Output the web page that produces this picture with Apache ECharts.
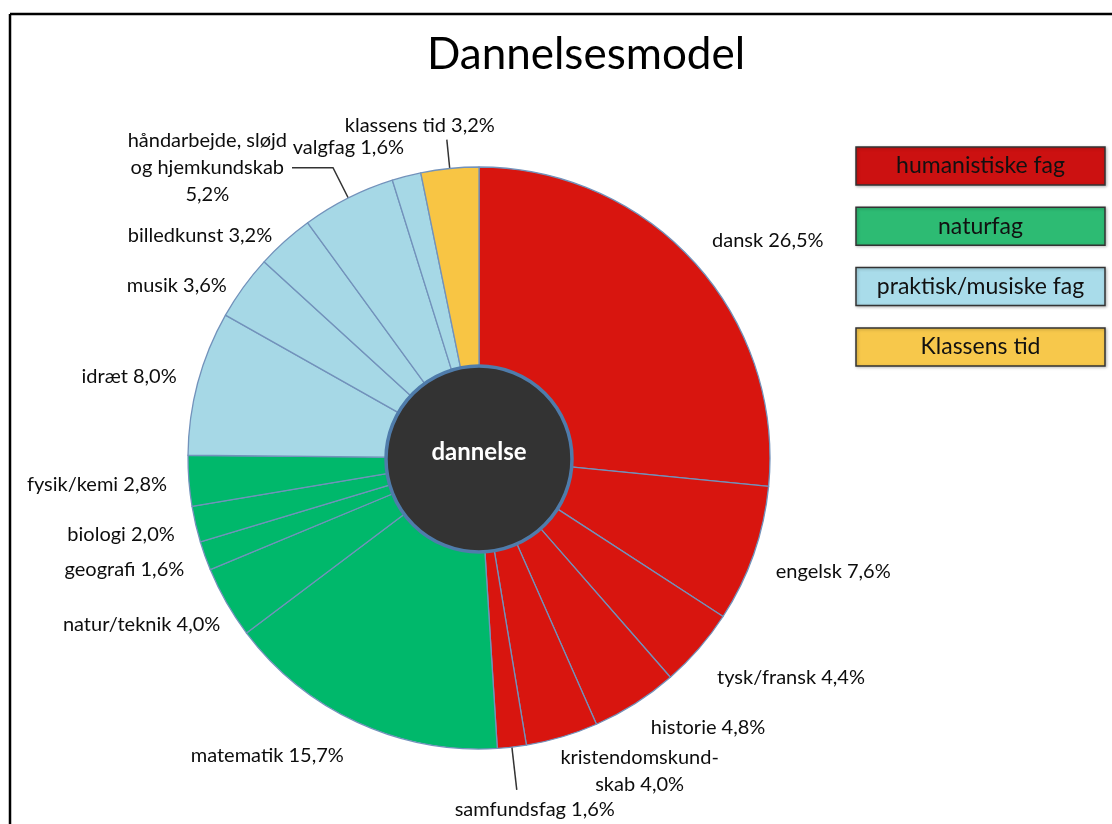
<!DOCTYPE html>
<html>
<head>
<meta charset="utf-8">
<script src="https://cdn.jsdelivr.net/npm/echarts@6/dist/echarts.min.js"></script>
<style>
  html, body { margin: 0; padding: 0; background: #fff; }
  #chart { width: 1112px; height: 824px; }
</style>
</head>
<body>
<div id="chart"></div>
<script>
// Subjects, clockwise from 12 o'clock ("\n" marks where a label wraps)
const subjects = [
  'dansk', 'engelsk', 'tysk/fransk', 'historie', 'kristendomskund-\nskab', 'samfundsfag',
  'matematik', 'natur/teknik', 'geografi', 'biologi', 'fysik/kemi',
  'idræt', 'musik', 'billedkunst', 'håndarbejde, sløjd\nog hjemkundskab\n', 'valgfag',
  'klassens tid'
];
// Share of lesson time, percent
const shares = [26.5, 7.6, 4.4, 4.8, 4.0, 1.6, 15.7, 4.0, 1.6, 2.0, 2.8, 8.0, 3.6, 3.2, 5.2, 1.6, 3.2];
// Subject group of each subject (index into groupNames)
const subjectGroup = [0, 0, 0, 0, 0, 0, 1, 1, 1, 1, 1, 2, 2, 2, 2, 2, 3];
const groupNames = ['humanistiske fag', 'naturfag', 'praktisk/musiske fag', 'Klassens tid'];
const centreLabel = 'dannelse';
const titleText = 'Dannelsesmodel';

// Styling
const sliceColors = ['#d8150f', '#00b86b', '#a6d8e6', '#f8c544'];
const legendColors = ['#cc1111', '#2dbb73', '#a9dcea', '#f7c84b'];
const FONT = 'Lato, "Open Sans", sans-serif';
const TEXT = '#0d0d0d';
const CX = 479, CY = 458, R_OUT = 291, R_IN = 92;

// Label guide lengths per subject: [radial length, horizontal length, draw leader line]
const guides = [
  [33, -12], [52, -32], [44, -20], [29, -5], [36, -17], [43, 0, true],
  [37, -7], [45, -38], [40, -22], [43, -26], [51, -34],
  [25, -8], [3, 9], [7, 3], [34, 41, true], [30, -10],
  [29, 0, true]
];
// Extra placement for labels that sit beyond the end of their leader line
const labelPlacement = {
  5: { align: 'center', verticalAlign: 'top', dx: 13, dy: 6 },
  16: { align: 'center', verticalAlign: 'bottom', dx: -22, dy: -1 }
};

const pct = v => v.toFixed(1).replace('.', ',') + '%';

const sliceData = subjects.map((name, i) => ({
  name,
  value: shares[i],
  itemStyle: { color: sliceColors[subjectGroup[i]] },
  labelLine: {
    show: !!guides[i][2],
    length: guides[i][0],
    length2: guides[i][1]
  }
}));

const chart = echarts.init(document.getElementById('chart'), null, { renderer: 'canvas' });

chart.setOption({
  animation: false,
  backgroundColor: '#ffffff',
  title: {
    text: titleText,
    left: 581,
    top: 28,
    textAlign: 'center',
    textStyle: { fontFamily: FONT, fontSize: 44, fontWeight: 'normal', color: '#000' }
  },
  series: [
    {
      type: 'pie',
      center: [CX, CY],
      radius: [R_IN, R_OUT],
      startAngle: 90,
      clockwise: true,
      avoidLabelOverlap: false,
      silent: true,
      itemStyle: { borderColor: '#7292bb', borderWidth: 1.3 },
      label: {
        show: true,
        position: 'outside',
        fontFamily: FONT,
        fontSize: 20,
        color: TEXT,
        lineHeight: 27,
        distanceToLabelLine: 5,
        formatter: p => {
          const name = p.name;
          if (name.indexOf('\n') < 0) return name + ' ' + pct(p.value);
          const text = name.endsWith('\n') ? name + pct(p.value) : name + ' ' + pct(p.value);
          return text.split('\n').map(s => '{c|' + s + '}').join('\n');
        },
        rich: {
          c: { align: 'center', fontFamily: FONT, fontSize: 20, color: TEXT, lineHeight: 27 }
        }
      },
      labelLine: { lineStyle: { color: '#333', width: 1.5 } },
      labelLayout: p => labelPlacement[p.dataIndex] || {},
      data: sliceData
    },
    {
      type: 'pie',
      center: [CX, CY + 1],
      radius: [0, R_IN + 1],
      silent: true,
      itemStyle: { color: '#333333', borderColor: '#4f7cab', borderWidth: 3.5 },
      label: {
        show: true,
        position: 'center',
        fontFamily: FONT,
        fontSize: 24,
        fontWeight: 'bold',
        color: '#ffffff'
      },
      labelLayout: { dy: -7 },
      data: [{ name: centreLabel, value: 1 }]
    }
  ],
  graphic: [
    { type: 'line', shape: { x1: 10, y1: 14, x2: 1112, y2: 14 }, style: { stroke: '#000', lineWidth: 2.5 } },
    { type: 'line', shape: { x1: 10, y1: 14, x2: 10, y2: 824 }, style: { stroke: '#000', lineWidth: 2.5 } }
  ].concat(groupNames.map((g, i) => ({
    type: 'group',
    x: 856,
    y: 147 + i * 60.3,
    children: [
      {
        type: 'rect',
        shape: { x: 0, y: 0, width: 249, height: 38 },
        style: {
          fill: legendColors[i], stroke: '#333', lineWidth: 1.5,
          shadowBlur: 3, shadowColor: 'rgba(0,0,0,0.25)', shadowOffsetX: 1, shadowOffsetY: 1
        }
      },
      {
        type: 'text',
        x: 124.5,
        y: 19,
        style: {
          text: g, align: 'center', verticalAlign: 'middle',
          fontFamily: FONT, fontSize: 23, fill: '#111'
        }
      }
    ]
  })))
});
</script>
</body>
</html>
